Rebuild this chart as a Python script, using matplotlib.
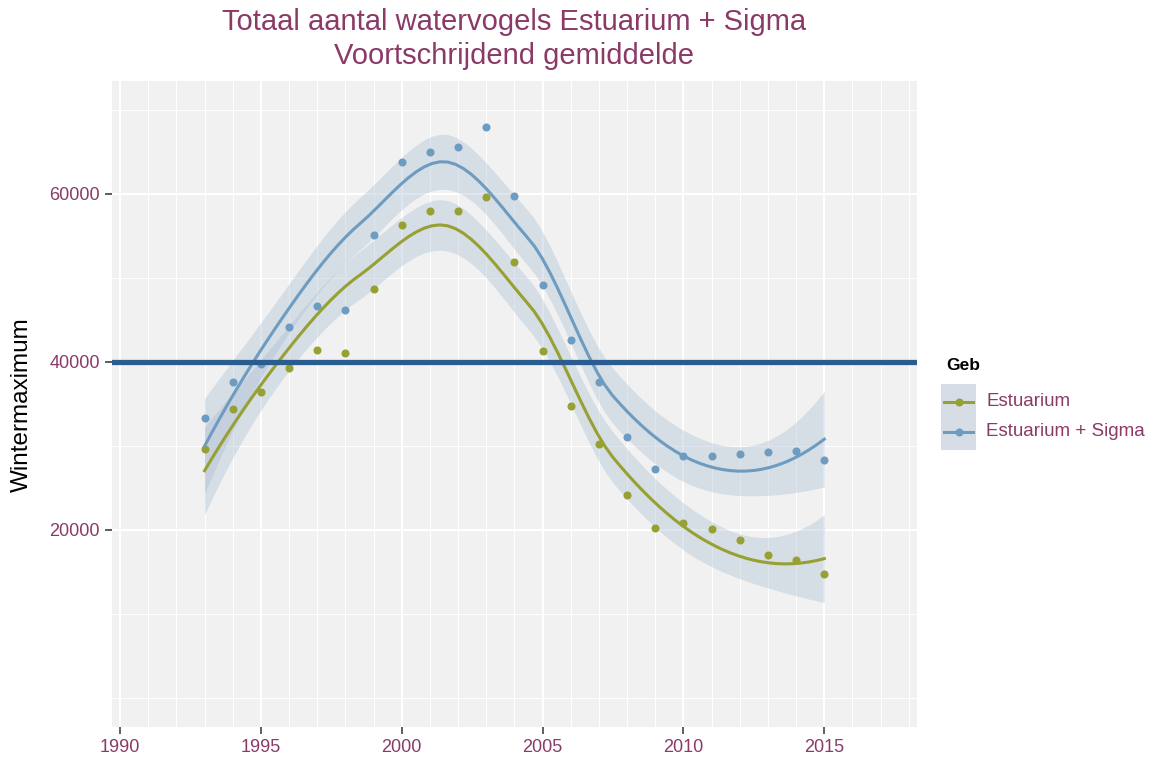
import numpy as np
import matplotlib
matplotlib.use("Agg")
import matplotlib.pyplot as plt
from matplotlib.patches import Rectangle
from matplotlib.lines import Line2D

# ---------------- data ----------------
years = [1993, 1994, 1995, 1996, 1997, 1998, 1999, 2000, 2001, 2002, 2003, 2004,
         2005, 2006, 2007, 2008, 2009, 2010, 2011, 2012, 2013, 2014, 2015]
estuarium = [29600, 34400, 36400, 39250, 41450, 41100, 48750, 56300, 58000, 58000,
             59600, 51850, 41350, 34750, 30200, 24200, 20200, 20800, 20100, 18800,
             17000, 16400, 14750]
estuarium_sigma = [33300, 37650, 39750, 44150, 46650, 46200, 55100, 63850, 64950,
                   65650, 68000, 59800, 49150, 42600, 37600, 31050, 27250, 28800,
                   28800, 29050, 29300, 29400, 28350]
series_names = ["Estuarium", "Estuarium + Sigma"]
threshold = 40000
x_major = [1990, 1995, 2000, 2005, 2010, 2015]
y_major = [20000, 40000, 60000]
y_minor = [0, 10000, 30000, 50000, 70000]
x_minor = list(range(1989, 2019))

title_lines = ["Totaal aantal watervogels Estuarium + Sigma", "Voortschrijdend gemiddelde"]
ylabel = "Wintermaximum"
legend_title = "Geb"

# ---------------- styles ----------------
PURPLE = "#8B3A68"
GREEN = "#97A033"
BLUE = "#6E9CC1"
HLINE = "#2B5C90"
BAND = "#A9BDD3"
PANEL = "#F1F1F1"

plt.rcParams["font.family"] = ["Liberation Sans", "DejaVu Sans"]


def loess(x, y, xnew, span=0.75, cell=0.2):
    """loess (degree 2) with kd-tree vertex fits + cubic Hermite interpolation."""
    x = np.asarray(x, float)
    y = np.asarray(y, float)
    xnew = np.asarray(xnew, float)
    n = len(x)
    q = int(np.floor(n * span))
    fc = int(np.floor(n * span * cell))

    def local(x0):
        d = np.abs(x - x0)
        h = np.sort(d)[q - 1]
        u = np.clip(d / h, 0, 1)
        w = (1 - u ** 3) ** 3
        X = np.vstack([np.ones(n), x - x0, (x - x0) ** 2]).T
        XtW = X.T * w
        A = np.linalg.solve(XtW @ X, XtW)
        return A[0], A[1]

    lo, hi = x.min(), x.max()
    mu = 0.005 * (hi - lo)
    verts = [lo - mu, hi + mu]

    def split(pts):
        k = len(pts)
        if k <= fc:
            return
        m = (1 + k) // 2
        v = (pts[m - 1] + pts[m]) / 2 if m < k else pts[m - 1]
        verts.append(v)
        split(pts[pts <= v])
        split(pts[pts > v])

    split(np.sort(x))
    verts = np.array(sorted(set(verts)))
    R = []
    D = []
    for v in verts:
        r, dd = local(v)
        R.append(r)
        D.append(dd)
    R = np.array(R)
    D = np.array(D)

    def rows(xq):
        out = []
        for xv in xq:
            i = np.searchsorted(verts, xv) - 1
            i = min(max(i, 0), len(verts) - 2)
            h = verts[i + 1] - verts[i]
            t = (xv - verts[i]) / h
            h00 = 2 * t ** 3 - 3 * t ** 2 + 1
            h10 = t ** 3 - 2 * t ** 2 + t
            h01 = -2 * t ** 3 + 3 * t ** 2
            h11 = t ** 3 - t ** 2
            out.append(h00 * R[i] + h10 * h * D[i] + h01 * R[i + 1] + h11 * h * D[i + 1])
        return np.array(out)

    L = rows(x)
    Lnew = rows(xnew)
    res = y - L @ y
    IL = np.eye(n) - L
    M = IL.T @ IL
    d1 = np.trace(M)
    d2 = np.trace(M @ M)
    s = np.sqrt(np.sum(res ** 2) / d1)
    fit = Lnew @ y
    se = s * np.sqrt(np.sum(Lnew ** 2, axis=1))
    df = d1 ** 2 / d2
    z = 1.959963985
    t = (z + (z ** 3 + z) / (4 * df) + (5 * z ** 5 + 16 * z ** 3 + 3 * z) / (96 * df ** 2)
         + (3 * z ** 7 + 19 * z ** 5 + 17 * z ** 3 - 15 * z) / (384 * df ** 3))
    return fit, fit - t * se, fit + t * se


W, H = 1154, 757
fig = plt.figure(figsize=(W / 100, H / 100), dpi=100)
left, right, top, bottom = 111.7, 916.7, 80.6, 727.4
ax = fig.add_axes([left / W, (H - bottom) / H, (right - left) / W, (bottom - top) / H])
ax.set_facecolor(PANEL)
for s in ax.spines.values():
    s.set_visible(False)

ax.set_xticks(x_major)
ax.set_xticks(x_minor, minor=True)
ax.set_yticks(y_major)
ax.set_yticks(y_minor, minor=True)
ax.set_xlim(1989.705, 2018.28)
ax.set_ylim(-3500, 73500)
ax.grid(which="major", color="white", linewidth=1.5)
ax.grid(which="minor", color="white", linewidth=0.75)
ax.set_axisbelow(True)
ax.tick_params(which="major", length=5, width=1.1, color="#333333",
               labelcolor=PURPLE, labelsize=13, pad=3.5)
ax.tick_params(which="minor", length=0)

xs = np.linspace(min(years), max(years), 80)
for vals, col in [(estuarium, GREEN), (estuarium_sigma, BLUE)]:
    fit, lo, hi = loess(years, vals, xs)
    ax.fill_between(xs, lo, hi, color=BAND, alpha=0.38, linewidth=0, zorder=2)
    ax.plot(years, vals, "o", color=col, markersize=5.8, markeredgewidth=0, zorder=3)
    ax.plot(xs, fit, color=col, linewidth=2.2, zorder=4)

ax.axhline(threshold, color=HLINE, linewidth=3.8, zorder=5)

# titles
fig.text(514 / W, 1 - 22 / H, title_lines[0], ha="center", va="center",
         color=PURPLE, fontsize=21)
fig.text(514 / W, 1 - 56 / H, title_lines[1], ha="center", va="center",
         color=PURPLE, fontsize=21)
fig.text(22 / W, 1 - 405 / H, ylabel, rotation=90, ha="center", va="center",
         color="black", fontsize=17.5)

# legend
fig.text(946 / W, 1 - 366 / H, legend_title, ha="left", va="center",
         fontweight="bold", fontsize=12.5, color="black")
kx0, kx1, ky0, ky1 = 941, 976, 384, 450
fig.patches.append(Rectangle((kx0 / W, 1 - ky1 / H), (kx1 - kx0) / W, (ky1 - ky0) / H,
                             transform=fig.transFigure, facecolor="#F2F2F2",
                             edgecolor="none"))
fig.patches.append(Rectangle((kx0 / W, 1 - ky1 / H), (kx1 - kx0) / W, (ky1 - ky0) / H,
                             transform=fig.transFigure, facecolor=BAND, alpha=0.38,
                             edgecolor="none"))
for name, col, yk in [(series_names[0], GREEN, 402), (series_names[1], BLUE, 432)]:
    fig.lines.append(Line2D([944 / W, 973 / W], [1 - yk / H, 1 - yk / H],
                            transform=fig.transFigure, color=col, linewidth=2.2))
    fig.lines.append(Line2D([958.5 / W], [1 - yk / H], transform=fig.transFigure,
                            color=col, marker="o", markersize=5.8, markeredgewidth=0))
    fig.text(986 / W, 1 - yk / H, name, ha="left", va="center", color=PURPLE,
             fontsize=13.5)

fig.savefig("out.png", dpi=100)
